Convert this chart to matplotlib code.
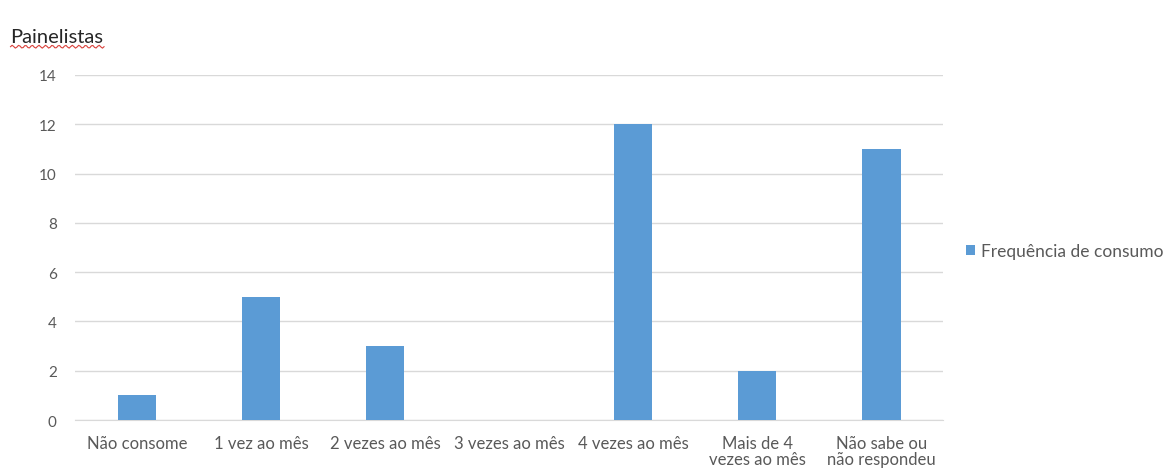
import numpy as np
import matplotlib
matplotlib.use("Agg")
import matplotlib.pyplot as plt

categories = ["Não consome", "1 vez ao mês", "2 vezes ao mês", "3 vezes ao mês",
              "4 vezes ao mês", "Mais de 4\nvezes ao mês", "Não sabe ou\nnão respondeu"]
values = [1, 5, 3, 0, 12, 2, 11]
series_name = "Frequência de consumo"
y_ticks = [0, 2, 4, 6, 8, 10, 12, 14]

plt.rcParams["font.family"] = ["Lato", "DejaVu Sans"]

fig = plt.figure(figsize=(11.69, 4.77), dpi=100)
ax = fig.add_axes([0.064, 0.1174, 0.743, 0.7233])

x = np.arange(len(categories))
bars = ax.bar(x, values, width=0.31, color="#5B9BD5", label=series_name, zorder=3)

ax.set_xlim(-0.5, len(categories) - 0.5)
ax.set_ylim(0, 14)
ax.set_yticks(y_ticks)
ax.set_xticks(x)
ax.set_xticklabels(categories, fontsize=12, color="#595959", linespacing=1.0)
ax.tick_params(axis="y", labelsize=11, labelcolor="#595959", length=0, pad=13)
ax.tick_params(axis="x", length=0, pad=11)

ax.grid(axis="y", color="#D9D9D9", linewidth=1, zorder=0)
for s in ["top", "right", "left"]:
    ax.spines[s].set_visible(False)
ax.spines["bottom"].set_color("#D9D9D9")

fig.text(0.009, 0.922, "Painelistas", fontsize=14.5, color="#262626", ha="left", va="center")
# wavy underline under the title
wx = np.linspace(0.009, 0.089, 60)
wy = 0.900 + 0.003 * np.sin(np.linspace(0, 2 * np.pi * 14, 60))
fig.add_artist(plt.Line2D(wx, wy, color="#D9403A", linewidth=0.8, transform=fig.transFigure))

leg = fig.legend(handles=[bars], labels=[series_name], loc="center left",
                 bbox_to_anchor=(0.813, 0.472), frameon=False, fontsize=12.5,
                 handlelength=0.5, handleheight=0.5, handletextpad=0.35)
for t in leg.get_texts():
    t.set_color("#595959")

fig.savefig("out.png", dpi=100)
